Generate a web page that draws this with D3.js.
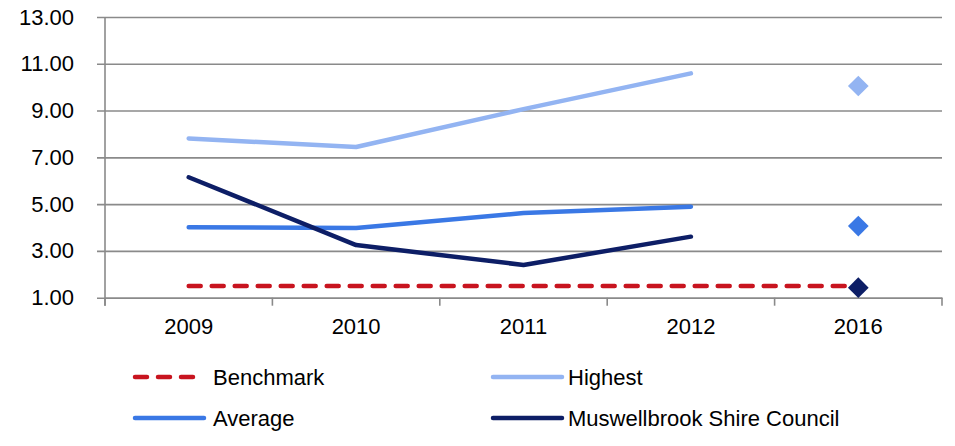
<!DOCTYPE html>
<html>
<head>
<meta charset="utf-8">
<script src="https://cdn.jsdelivr.net/npm/d3@7"></script>
<style>
  html, body { margin: 0; padding: 0; background: #fff; }
  svg { display: block; font-family: "Liberation Sans", Arial, sans-serif; }
</style>
</head>
<body>
<svg id="chart" width="955" height="446"></svg>
<script>
// Categories along the x axis
const categories = ["2009", "2010", "2011", "2012", "2016"];
// Years with a full data series (lines)
const lineYears = ["2009", "2010", "2011", "2012"];
// Year shown as a single target marker
const targetYear = "2016";

// Series values for 2009–2012
const highest = [7.81, 7.44, 9.06, 10.59];
const average = [4.01, 3.98, 4.62, 4.89];
const council = [6.15, 3.25, 2.40, 3.61];
// Benchmark spans every category
const benchmark = [1.50, 1.50, 1.50, 1.50, 1.50];

// 2016 target markers
const highestTarget = 10.05;
const averageTarget = 4.06;
const councilTarget = 1.43;

// Y axis tick values
const yTicks = [1, 3, 5, 7, 9, 11, 13];

const colors = {
  benchmark: "#C8141F",
  highest: "#93B4F2",
  average: "#3A78E5",
  council: "#0D1E66"
};

const svg = d3.select("#chart");
const plotLeft = 105, plotRight = 942, plotTop = 17, plotBottom = 297.7;

const x = d3.scaleBand().domain(categories).range([plotLeft, plotRight]).padding(0);
const cx = d => x(d) + x.bandwidth() / 2;
const y = d3.scaleLinear().domain([1, 13]).range([plotBottom, plotTop]);

const gridColor = "#8a8a8a";
const fontStack = "'Liberation Sans', Arial, sans-serif";

// Horizontal gridlines with left tick marks
const yAxis = d3.axisLeft(y).tickValues(yTicks).tickFormat(d3.format(".2f"))
  .tickSize(-(plotRight - plotLeft)).tickSizeOuter(0).tickPadding(31);
const gy = svg.append("g").attr("transform", `translate(${plotLeft},0)`).call(yAxis);
gy.select(".domain").remove();
gy.selectAll(".tick line").attr("stroke", gridColor).attr("stroke-width", 1.6).attr("x1", -8);
gy.selectAll(".tick text").attr("fill", "#000").style("font-size", "22px")
  .style("font-family", fontStack);

// Vertical axis line
svg.append("line").attr("x1", plotLeft).attr("x2", plotLeft).attr("y1", plotTop).attr("y2", plotBottom + 8)
  .attr("stroke", gridColor).attr("stroke-width", 1.6);

// X axis with tick marks between categories
const xAxis = d3.axisBottom(x).tickSize(0).tickPadding(21);
const gx = svg.append("g").attr("transform", `translate(0,${plotBottom})`).call(xAxis);
gx.select(".domain").attr("stroke", gridColor).attr("stroke-width", 1.6);
gx.selectAll(".tick text").attr("fill", "#000").style("font-size", "22px")
  .style("font-family", fontStack);
const boundaries = categories.map(c => x(c)).concat([plotRight]);
svg.append("g").selectAll("line").data(boundaries).join("line")
  .attr("x1", d => d).attr("x2", d => d)
  .attr("y1", plotBottom).attr("y2", plotBottom + 8)
  .attr("stroke", gridColor).attr("stroke-width", 1.6);

// Series lines
const lineGen = d3.line().x(d => cx(d[0])).y(d => y(d[1]));

const series = [
  { key: "highest", values: highest },
  { key: "average", values: average },
  { key: "council", values: council }
];

svg.append("path")
  .attr("d", lineGen(categories.map((c, i) => [c, benchmark[i]])))
  .attr("fill", "none").attr("stroke", colors.benchmark).attr("stroke-width", 4.5)
  .attr("stroke-linecap", "round").attr("stroke-dasharray", "12,11");

series.forEach(s => {
  svg.append("path")
    .attr("d", lineGen(lineYears.map((c, i) => [c, s.values[i]])))
    .attr("fill", "none").attr("stroke", colors[s.key]).attr("stroke-width", 4.5)
    .attr("stroke-linecap", "round").attr("stroke-linejoin", "round");
});

// 2016 target diamonds
const diamond = d3.symbol().type(d3.symbolSquare).size(215);
const targets = [
  { key: "highest", v: highestTarget },
  { key: "average", v: averageTarget },
  { key: "council", v: councilTarget }
];
svg.append("g").selectAll("path").data(targets).join("path")
  .attr("d", diamond)
  .attr("transform", d => `translate(${cx(targetYear)},${y(d.v)}) rotate(45)`)
  .attr("fill", d => colors[d.key]);

// Legend
const legend = [
  { label: "Benchmark", key: "benchmark", dashed: true, lx: 135, ly: 377, tx: 78 },
  { label: "Highest", key: "highest", dashed: false, lx: 493, ly: 377, tx: 75 },
  { label: "Average", key: "average", dashed: false, lx: 135, ly: 418, tx: 78 },
  { label: "Muswellbrook Shire Council", key: "council", dashed: false, lx: 493, ly: 418, tx: 75 }
];
const lg = svg.append("g").selectAll("g").data(legend).join("g")
  .attr("transform", d => `translate(${d.lx},${d.ly})`);
lg.append("line")
  .attr("x1", 0).attr("x2", d => d.dashed ? 60 : 69).attr("y1", 0).attr("y2", 0)
  .attr("stroke", d => colors[d.key]).attr("stroke-width", 4.5)
  .attr("stroke-linecap", "round")
  .attr("stroke-dasharray", d => d.dashed ? "12,11" : null);
lg.append("text")
  .attr("x", d => d.tx).attr("y", 0).attr("dy", "0.36em")
  .style("font-size", "22px").attr("fill", "#000")
  .text(d => d.label);
</script>
</body>
</html>
